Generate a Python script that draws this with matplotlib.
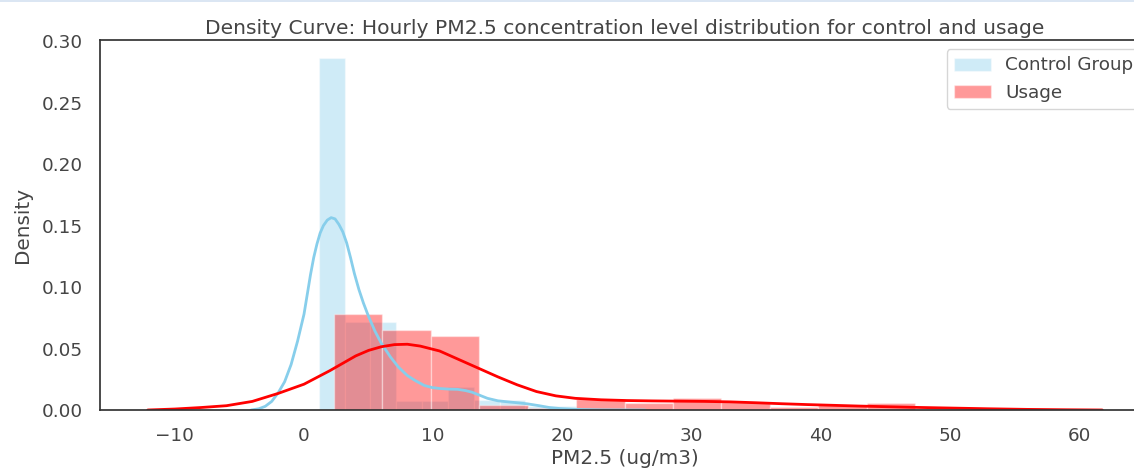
import matplotlib
matplotlib.use("Agg")
import matplotlib.pyplot as plt
import seaborn as sns
from matplotlib.patches import Rectangle

# ---------------- data ----------------
control_edges = [1.14, 3.14, 5.14, 7.14, 9.14, 11.14, 13.14, 15.14, 17.14, 19.14, 21.14]
control_density = [0.2867, 0.072, 0.072, 0.0076, 0.0076, 0.0185, 0.008, 0.008, 0.003, 0.003]

usage_edges = [2.32, 6.07, 9.82, 13.57, 17.32, 21.07, 24.82, 28.57, 32.32, 36.07,
               39.82, 43.57, 47.32]
usage_density = [0.078, 0.065, 0.060, 0.004, 0.002, 0.0087, 0.0057, 0.0095, 0.0068,
                 0.0024, 0.004, 0.0054]

control_kde_x = [-4.1, -3.5, -3.0, -2.5, -2.0, -1.5, -1.0, -0.5, 0.0, 0.25, 0.5, 0.75,
                 1.0, 1.25, 1.5, 1.8, 2.1, 2.4, 2.7, 3.0, 3.3, 3.6, 3.9, 4.25, 4.6,
                 5.0, 5.5, 6.0, 6.7, 7.3, 8.0, 8.6, 9.3, 9.9, 10.5, 11.2, 11.9, 12.5,
                 13.0, 13.6, 14.2, 15.0, 15.8, 16.6, 17.3, 18.2, 19.0, 19.8, 21.0,
                 23.0, 26.4]
control_kde_y = [0.0, 0.001, 0.003, 0.007, 0.014, 0.023, 0.037, 0.056, 0.078, 0.094,
                 0.110, 0.124, 0.135, 0.144, 0.150, 0.1545, 0.1565, 0.1555, 0.151,
                 0.145, 0.136, 0.124, 0.111, 0.098, 0.087, 0.076, 0.064, 0.054, 0.043,
                 0.035, 0.028, 0.024, 0.020, 0.0183, 0.0175, 0.017, 0.0168, 0.0158,
                 0.0145, 0.012, 0.0095, 0.0075, 0.0066, 0.0058, 0.005, 0.0035, 0.002,
                 0.0012, 0.0005, 0.0001, 0.0]

usage_kde_x = [-12.1, -10, -8, -6, -4, -2, 0, 2, 4, 5, 6, 7, 8, 9, 10.5, 12, 13.5, 15,
               16.5, 18, 19.5, 21, 23, 25, 27, 29, 31, 33, 35, 37, 39, 41, 43, 45,
               47, 50, 53, 56, 59, 61.8]
usage_kde_y = [0.0, 0.0008, 0.002, 0.0035, 0.007, 0.0135, 0.021, 0.032, 0.044, 0.0485,
               0.0515, 0.0532, 0.0535, 0.052, 0.048, 0.041, 0.034, 0.027, 0.0205,
               0.015, 0.0115, 0.0095, 0.0083, 0.0077, 0.0074, 0.0072, 0.0070, 0.0066,
               0.0059, 0.0051, 0.0044, 0.0038, 0.0032, 0.0027, 0.0022, 0.0016, 0.0010,
               0.0005, 0.0002, 0.0]

labels = ["Control Group", "Usage"]
title = "Density Curve: Hourly PM2.5 concentration level distribution for control and usage"
xlabel = "PM2.5 (ug/m3)"
ylabel = "Density"

# ---------------- style ----------------
sns.set_style("white")
sns.set_context("notebook", font_scale=1.2)
plt.rcParams["font.family"] = ["DejaVu Sans"]
TXT = "0.27"
plt.rcParams["text.color"] = TXT
plt.rcParams["axes.labelcolor"] = TXT
plt.rcParams["xtick.color"] = TXT
plt.rcParams["ytick.color"] = TXT
plt.rcParams["xtick.major.pad"] = 6.4
plt.rcParams["ytick.major.pad"] = 6.4
plt.rcParams["axes.titlepad"] = 4

W, H, DPI = 1134, 471, 100
fig = plt.figure(figsize=(W / DPI, H / DPI), dpi=DPI)
ax = fig.add_axes([100 / W, 61 / H, 1050 / W, 370 / H])
for s in ax.spines.values():
    s.set_color("0.2")

def draw(edges, dens, kx, ky, color, label):
    lefts = edges[:-1]
    widths = [b - a for a, b in zip(edges[:-1], edges[1:])]
    ax.bar(lefts, dens, width=widths, align="edge", color=color, alpha=0.4,
           edgecolor="white", linewidth=1, label=label)
    ax.plot(kx, ky, color=color, lw=2.0, solid_joinstyle="round")

draw(control_edges, control_density, control_kde_x, control_kde_y, "skyblue", labels[0])
draw(usage_edges, usage_density, usage_kde_x, usage_kde_y, "red", labels[1])

ax.set_title(title, fontsize=14.6)
ax.set_xlabel(xlabel, fontsize=14.4, labelpad=3)
ax.set_ylabel(ylabel, fontsize=14.4, labelpad=7)
ax.legend(loc="upper right", fontsize=13.2)

# thin notebook border strip at top
fig.add_artist(Rectangle((0, 1 - 2 / H), 1, 2 / H, transform=fig.transFigure,
                         color="#dbe6f3", lw=0))

fig.savefig("out.png", dpi=DPI)
